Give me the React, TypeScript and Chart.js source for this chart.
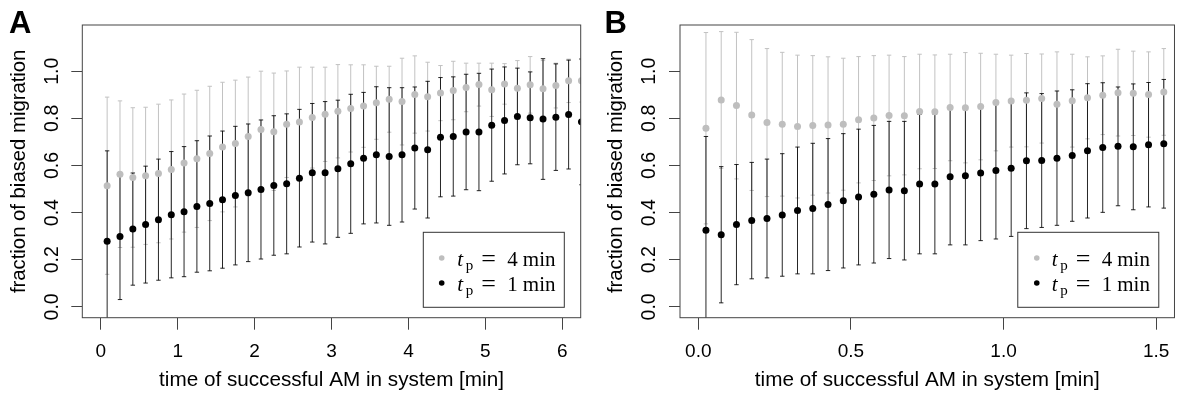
import { useEffect, useRef } from "react";
import { Chart, registerables } from "chart.js";

Chart.register(...registerables);

// ---------- data ----------
const panelLetters = ["A", "B"];
const seriesDurations = ["4", "1"]; // t_p = 4 min (gray), t_p = 1 min (black)

// Panel A: time of successful AM in system [min]
const timesA = [
  0.083, 0.25, 0.417, 0.583, 0.75, 0.917, 1.083, 1.25, 1.417, 1.583,
  1.75, 1.917, 2.083, 2.25, 2.417, 2.583, 2.75, 2.917, 3.083, 3.25,
  3.417, 3.583, 3.75, 3.917, 4.083, 4.25, 4.417, 4.583, 4.75, 4.917,
  5.083, 5.25, 5.417, 5.583, 5.75, 5.917, 6.083, 6.25,
];
const grayMeanA = [
  0.514, 0.563, 0.549, 0.556, 0.566, 0.583, 0.61, 0.628, 0.651, 0.678,
  0.693, 0.723, 0.753, 0.743, 0.775, 0.784, 0.803, 0.817, 0.83, 0.842,
  0.852, 0.866, 0.881, 0.871, 0.901, 0.892, 0.907, 0.918, 0.931, 0.943,
  0.921, 0.946, 0.928, 0.942, 0.925, 0.939, 0.959, 0.959,
];
const graySdA = [
  0.376, 0.311, 0.296, 0.291, 0.294, 0.295, 0.293, 0.291, 0.285, 0.275,
  0.269, 0.252, 0.247, 0.249, 0.226, 0.233, 0.214, 0.2, 0.198, 0.185,
  0.175, 0.155, 0.14, 0.184, 0.164, 0.146, 0.117, 0.124, 0.103, 0.091,
  0.113, 0.086, 0.117, 0.12, 0.12, 0.095, 0.092, 0.09,
];
const blackMeanA = [
  0.278, 0.299, 0.33, 0.349, 0.37, 0.391, 0.404, 0.426, 0.439, 0.455,
  0.472, 0.484, 0.498, 0.515, 0.522, 0.546, 0.569, 0.569, 0.586, 0.607,
  0.631, 0.645, 0.638, 0.645, 0.674, 0.667, 0.72, 0.723, 0.742, 0.742,
  0.771, 0.791, 0.808, 0.802, 0.797, 0.805, 0.816, 0.785,
];
const blackSdA = [
  0.384, 0.268, 0.238, 0.248, 0.257, 0.268, 0.276, 0.279, 0.286, 0.291,
  0.294, 0.292, 0.295, 0.296, 0.297, 0.292, 0.294, 0.302, 0.291, 0.295,
  0.279, 0.289, 0.292, 0.285, 0.259, 0.29, 0.253, 0.253, 0.245, 0.249,
  0.238, 0.227, 0.205, 0.195, 0.256, 0.226, 0.231, 0.267,
];

// Panel B
const timesB = [
  0.025, 0.075, 0.125, 0.175, 0.225, 0.275, 0.325, 0.375, 0.425, 0.475,
  0.525, 0.575, 0.625, 0.675, 0.725, 0.775, 0.825, 0.875, 0.925, 0.975,
  1.025, 1.075, 1.125, 1.175, 1.225, 1.275, 1.325, 1.375, 1.425, 1.475,
  1.525,
];
const grayMeanB = [
  0.758, 0.878, 0.854, 0.814, 0.782, 0.775, 0.765, 0.77, 0.772, 0.775,
  0.794, 0.801, 0.812, 0.811, 0.829, 0.828, 0.846, 0.845, 0.85, 0.867,
  0.873, 0.877, 0.884, 0.86, 0.875, 0.887, 0.898, 0.909, 0.906, 0.901,
  0.912,
];
const graySdB = [
  0.406, 0.29, 0.311, 0.32, 0.314, 0.305, 0.303, 0.296, 0.289, 0.28,
  0.268, 0.265, 0.256, 0.251, 0.243, 0.241, 0.226, 0.234, 0.226, 0.205,
  0.195, 0.198, 0.189, 0.222, 0.197, 0.174, 0.167, 0.184, 0.179, 0.181,
  0.184,
];
const blackMeanB = [
  0.325, 0.306, 0.349, 0.366, 0.375, 0.39, 0.409, 0.417, 0.434, 0.45,
  0.466, 0.478, 0.496, 0.493, 0.521, 0.521, 0.552, 0.556, 0.568, 0.579,
  0.588, 0.62, 0.621, 0.631, 0.642, 0.662, 0.676, 0.681, 0.679, 0.688,
  0.692,
];
const blackSdB = [
  0.398, 0.289, 0.255, 0.247, 0.252, 0.26, 0.269, 0.277, 0.28, 0.285,
  0.288, 0.292, 0.291, 0.294, 0.296, 0.296, 0.289, 0.293, 0.287, 0.291,
  0.289, 0.288, 0.284, 0.285, 0.279, 0.285, 0.275, 0.252, 0.267, 0.264,
  0.273,
];

const yTicks = [0, 0.2, 0.4, 0.6, 0.8, 1.0];
const xTicksA = [0, 1, 2, 3, 4, 5, 6];
const xTicksB = [0, 0.5, 1.0, 1.5];
const yTitle = "fraction of biased migration";
const xTitle = "time of successful AM in system [min]";

// ---------- styling ----------
const GRAY_POINT = "#bebebe";
const GRAY_BAR = "#c2c2c2";
const BLACK_POINT = "#000000";
const BLACK_BAR = "rgba(0,0,0,0.85)";
const AXIS = "#444444";
const SANS = "'Liberation Sans', Arial, Helvetica, sans-serif";
const SERIF = "'Liberation Serif', 'Times New Roman', serif";

const errorBarPlugin = {
  id: "errorBars",
  beforeDatasetsDraw(chart: any) {
    const { ctx, chartArea, scales } = chart;
    const xs = scales.x;
    const ys = scales.y;
    ctx.save();
    ctx.beginPath();
    ctx.rect(chartArea.left, chartArea.top, chartArea.right - chartArea.left, chartArea.bottom - chartArea.top);
    ctx.clip();
    chart.data.datasets.forEach((ds: any) => {
      ctx.strokeStyle = ds.barColor;
      ctx.lineWidth = 1;
      ds.data.forEach((p: any, i: number) => {
        const s = ds.spread[i];
        const px = xs.getPixelForValue(p.x);
        const yt = ys.getPixelForValue(p.y + s);
        const yb = ys.getPixelForValue(p.y - s);
        ctx.beginPath();
        ctx.moveTo(px, yt);
        ctx.lineTo(px, yb);
        ctx.moveTo(px - 2.2, yt);
        ctx.lineTo(px + 2.2, yt);
        ctx.moveTo(px - 2.2, yb);
        ctx.lineTo(px + 2.2, yb);
        ctx.stroke();
      });
    });
    ctx.restore();
  },
};

const frameLegendPlugin = {
  id: "frameLegend",
  afterDraw(chart: any) {
    const { ctx, chartArea } = chart;
    const opts = chart.options.plugins.frameLegend;
    ctx.save();
    // plot box
    ctx.strokeStyle = AXIS;
    ctx.lineWidth = 1;
    ctx.strokeRect(chartArea.left, chartArea.top, chartArea.right - chartArea.left, chartArea.bottom - chartArea.top);

    // legend box
    const bw = 141;
    const bh = 75;
    const bx = chartArea.right - opts.legendRight;
    const by = chartArea.bottom - 85.4;
    ctx.fillStyle = "#ffffff";
    ctx.fillRect(bx, by, bw, bh);
    ctx.strokeStyle = "#333333";
    ctx.strokeRect(bx, by, bw, bh);

    const dotColors = [GRAY_POINT, BLACK_POINT];
    seriesDurations.forEach((d, i) => {
      const cy = by + 25.7 + i * 25;
      ctx.fillStyle = dotColors[i];
      ctx.beginPath();
      ctx.arc(bx + opts.dotX, cy, 2.8, 0, Math.PI * 2);
      ctx.fill();
      const base = by + 33.5 + i * 25;
      ctx.fillStyle = "#000";
      ctx.textBaseline = "alphabetic";
      ctx.textAlign = "left";
      ctx.font = `italic 21px ${SERIF}`;
      ctx.fillText("t", bx + 34, base);
      ctx.font = `15px ${SERIF}`;
      ctx.fillText("p", bx + 42.5, base + 4);
      ctx.font = `26px ${SERIF}`;
      ctx.fillText("=", bx + 58, base + 1);
      ctx.font = `21px ${SERIF}`;
      ctx.fillText(d, bx + 84, base);
      ctx.fillText("min", bx + 99.5, base);
    });

    // panel letter
    ctx.fillStyle = "#000";
    ctx.font = `bold 31px ${SANS}`;
    ctx.textBaseline = "alphabetic";
    ctx.fillText(opts.letter, opts.letterX, 32.8);
    ctx.restore();
  },
};

type PanelProps = {
  letter: string;
  times: number[];
  grayMean: number[];
  graySd: number[];
  blackMean: number[];
  blackSd: number[];
  xTicks: number[];
  xMin: number;
  xMax: number;
  xDecimals: number;
  padLeft: number;
  padRight: number;
  legendRight: number;
  dotX: number;
  letterX: number;
};

function Panel(props: PanelProps) {
  const ref = useRef<HTMLCanvasElement | null>(null);
  useEffect(() => {
    if (!ref.current) return;
    const gray = props.times.map((t, i) => ({ x: t, y: props.grayMean[i] }));
    const black = props.times.map((t, i) => ({ x: t, y: props.blackMean[i] }));
    const chart = new Chart(ref.current, {
      type: "scatter",
      data: {
        datasets: [
          {
            label: `t_p = ${seriesDurations[0]} min`,
            data: gray,
            spread: props.graySd,
            barColor: GRAY_BAR,
            backgroundColor: GRAY_POINT,
            borderWidth: 0,
            pointRadius: 3.5,
            pointHoverRadius: 3.5,
            clip: 0,
          } as any,
          {
            label: `t_p = ${seriesDurations[1]} min`,
            data: black,
            spread: props.blackSd,
            barColor: BLACK_BAR,
            backgroundColor: BLACK_POINT,
            borderWidth: 0,
            pointRadius: 3.5,
            pointHoverRadius: 3.5,
            clip: 0,
          } as any,
        ],
      },
      options: {
        animation: false,
        responsive: false,
        devicePixelRatio: 1,
        events: [],
        layout: { padding: { left: props.padLeft, right: props.padRight, top: 25, bottom: 0 } },
        plugins: {
          legend: { display: false },
          tooltip: { enabled: false },
          frameLegend: {
            letter: props.letter,
            legendRight: props.legendRight,
            dotX: props.dotX,
            letterX: props.letterX,
          },
        } as any,
        scales: {
          x: {
            type: "linear",
            min: props.xMin,
            max: props.xMax,
            afterBuildTicks: (scale: any) => {
              scale.ticks = props.xTicks.map((v) => ({ value: v }));
            },
            afterFit: (scale: any) => {
              scale.height = 80.3;
            },
            grid: { drawOnChartArea: false, drawTicks: true, tickLength: 12, color: AXIS },
            border: { display: false },
            ticks: {
              color: "#000",
              font: { family: SANS, size: 19 },
              padding: 10.5,
              maxRotation: 0,
              autoSkip: false,
              callback: (v: any) => Number(v).toFixed(props.xDecimals),
            },
            title: {
              display: true,
              text: xTitle,
              color: "#000",
              font: { family: SANS, size: 20.7 },
              padding: { top: 0, bottom: 5 },
            },
          },
          y: {
            type: "linear",
            min: -0.046,
            max: 1.196,
            afterBuildTicks: (scale: any) => {
              scale.ticks = yTicks.map((v) => ({ value: v }));
            },
            afterFit: (scale: any) => {
              scale.width = 82.3;
            },
            grid: { drawOnChartArea: false, drawTicks: true, tickLength: 11, color: AXIS },
            border: { display: false },
            ticks: {
              color: "#000",
              font: { family: SANS, size: 19.5 },
              minRotation: 90,
              maxRotation: 90,
              crossAlign: "center",
              padding: 5.4,
              autoSkip: false,
              callback: (v: any) => Number(v).toFixed(1),
            },
            title: {
              display: true,
              text: yTitle,
              color: "#000",
              font: { family: SANS, size: 20.3 },
              padding: { top: 7, bottom: 0 },
            },
          },
        },
      },
      plugins: [errorBarPlugin, frameLegendPlugin],
    });
    return () => chart.destroy();
  }, []);
  return <canvas ref={ref} width={590} height={398} style={{ width: 590, height: 398, display: "block" }} />;
}

export default function App() {
  return (
    <div style={{ position: "absolute", left: 0, top: 0, width: 1180, height: 398, background: "#fff", display: "flex" }}>
      <Panel
        letter={panelLetters[0]}
        times={timesA}
        grayMean={grayMeanA}
        graySd={graySdA}
        blackMean={blackMeanA}
        blackSd={blackSdA}
        xTicks={xTicksA}
        xMin={-0.24}
        xMax={6.24}
        xDecimals={0}
        padLeft={0}
        padRight={9.3}
        legendRight={157.4}
        dotX={18.4}
        letterX={9}
      />
      <Panel
        letter={panelLetters[1]}
        times={timesB}
        grayMean={grayMeanB}
        graySd={graySdB}
        blackMean={blackMeanB}
        blackSd={blackSdB}
        xTicks={xTicksB}
        xMin={-0.06}
        xMax={1.56}
        xDecimals={1}
        padLeft={7.7}
        padRight={2.3}
        legendRight={156.7}
        dotX={19}
        letterX={14.5}
      />
    </div>
  );
}
